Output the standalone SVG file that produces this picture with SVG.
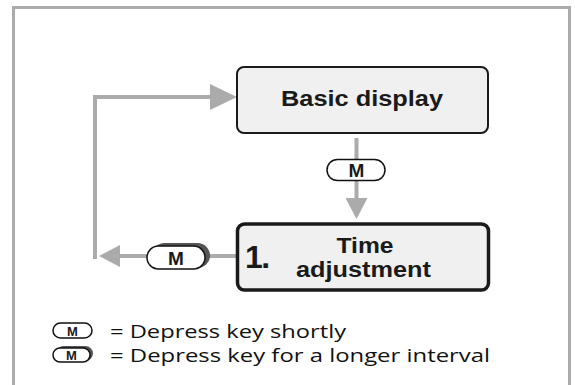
<svg xmlns="http://www.w3.org/2000/svg" width="575" height="385" viewBox="0 0 575 385">
<style>
.frame{fill:none;stroke:#ababab;stroke-width:3}
.conn{fill:none;stroke:#ababab;stroke-width:4;stroke-linejoin:miter}
.box{fill:#f0f0f0;stroke:#1a1a1a;stroke-width:2}
.box2{fill:#f0f0f0;stroke:#1a1a1a;stroke-width:3.5}
.key{fill:#ffffff;stroke:#111;stroke-width:1.5}
.shadow{fill:#555555}
.bt{font-family:"Liberation Sans",Arial,sans-serif;font-weight:bold;fill:#1a1a1a}
.lt{font-family:"Open Sans","Noto Sans",sans-serif;font-size:19px;fill:#111}
</style>
<defs>
<marker id="arrowL" viewBox="0 0 27 26" refX="2" refY="13" markerWidth="27" markerHeight="26" markerUnits="userSpaceOnUse" orient="auto">
<path d="M0,0 L27,13 L0,26 z" fill="#ababab"/>
</marker>
<marker id="arrowS" viewBox="0 0 21 22" refX="2" refY="11" markerWidth="21" markerHeight="22" markerUnits="userSpaceOnUse" orient="auto">
<path d="M0,0 L21,11 L0,22 z" fill="#ababab"/>
</marker>
</defs>
<rect class="frame" x="13.5" y="7.5" width="556" height="400"/>
<g id="connectors">
<path class="conn" d="M95,259 V97 H212" marker-end="url(#arrowL)"/>
<path class="conn" d="M356.5,138 V200" marker-end="url(#arrowS)"/>
<path class="conn" d="M237,256 H118" marker-end="url(#arrowS)"/>
</g>
<g id="key-short">
<rect class="key" x="327" y="159.5" width="58" height="21" rx="10.5"/>
<text class="bt" x="356.5" y="177" font-size="19" text-anchor="middle">M</text>
</g>
<g id="key-long">
<rect class="shadow" x="152" y="243" width="58" height="25" rx="12.5"/>
<rect class="key" x="147" y="246" width="58" height="23" rx="11.5"/>
<text class="bt" x="176" y="265" font-size="19" text-anchor="middle">M</text>
</g>
<g id="basic-display">
<rect class="box" x="237" y="67" width="251" height="66" rx="7"/>
<text class="bt" x="362" y="105.5" font-size="22.5" text-anchor="middle" textLength="162" lengthAdjust="spacingAndGlyphs">Basic display</text>
</g>
<g id="time-adjustment">
<rect class="box2" x="237.5" y="224" width="251" height="66" rx="7"/>
<text class="bt" x="245" y="268" font-size="32" letter-spacing="-1.5">1.</text>
<text class="bt" x="365" y="253" font-size="21.5" text-anchor="middle" textLength="57" lengthAdjust="spacingAndGlyphs">Time</text>
<text class="bt" x="363.5" y="277" font-size="21.5" text-anchor="middle" textLength="135" lengthAdjust="spacingAndGlyphs">adjustment</text>
</g>
<g id="legend">
<rect class="key" x="53" y="323" width="39" height="15" rx="7.5" stroke-width="1.2"/>
<text class="bt" x="72.5" y="335.5" font-size="13" text-anchor="middle">M</text>
<text class="lt" x="110" y="338" textLength="236" lengthAdjust="spacingAndGlyphs">= Depress key shortly</text>
<rect class="shadow" x="56" y="346" width="37" height="15" rx="7.5"/>
<rect class="key" x="53" y="348" width="37" height="14" rx="7" stroke-width="1.2"/>
<text class="bt" x="71.5" y="360" font-size="13" text-anchor="middle">M</text>
<text class="lt" x="110" y="362" textLength="380" lengthAdjust="spacingAndGlyphs">= Depress key for a longer interval</text>
</g>
</svg>
